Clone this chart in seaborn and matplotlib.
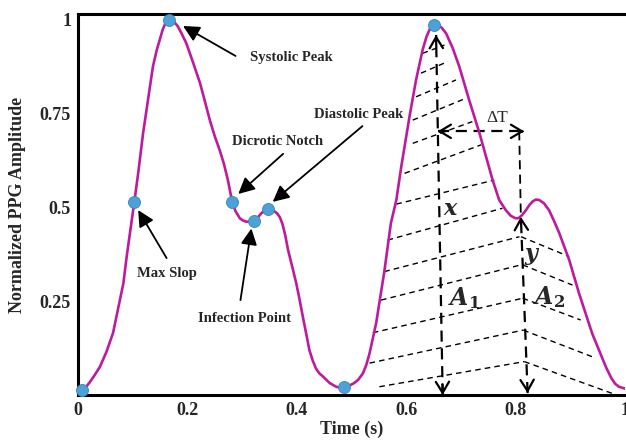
import numpy as np
import pandas as pd
import matplotlib
matplotlib.use("Agg")
import matplotlib.pyplot as plt
import seaborn as sns

# PPG waveform (time in s, normalised amplitude)
time_s = [0.008, 0.015, 0.022, 0.030, 0.040, 0.052, 0.064, 0.074, 0.083, 0.089,
          0.095, 0.103, 0.110, 0.119, 0.128, 0.137, 0.144, 0.150, 0.155, 0.160,
          0.166, 0.171, 0.176, 0.182, 0.189, 0.198, 0.210, 0.223, 0.232, 0.241,
          0.250, 0.259, 0.267, 0.274, 0.282, 0.288, 0.296, 0.302, 0.308, 0.315,
          0.322, 0.329, 0.335, 0.341, 0.348, 0.354, 0.359, 0.364, 0.369, 0.374,
          0.379, 0.384, 0.392, 0.399, 0.405, 0.411, 0.417, 0.423, 0.429, 0.435,
          0.441, 0.448, 0.460, 0.472, 0.480, 0.487, 0.496, 0.504, 0.512, 0.521,
          0.527, 0.533, 0.545, 0.560, 0.572, 0.582, 0.591, 0.606, 0.618, 0.630,
          0.637, 0.643, 0.648, 0.653, 0.659, 0.665, 0.673, 0.685, 0.697, 0.715,
          0.734, 0.758, 0.770, 0.782, 0.791, 0.800, 0.806, 0.812, 0.819, 0.825,
          0.831, 0.837, 0.843, 0.852, 0.861, 0.870, 0.880, 0.898, 0.916, 0.940,
          0.965, 0.975, 0.982, 0.989, 1.000]
amplitude = [0.013, 0.022, 0.035, 0.052, 0.075, 0.115, 0.165, 0.235, 0.298, 0.369,
             0.432, 0.515, 0.591, 0.698, 0.787, 0.876, 0.920, 0.950, 0.975, 0.992,
             1.000, 0.999, 0.994, 0.984, 0.965, 0.938, 0.888, 0.832, 0.783, 0.733,
             0.690, 0.653, 0.615, 0.573, 0.514, 0.490, 0.471, 0.465, 0.462, 0.462,
             0.465, 0.474, 0.484, 0.492, 0.496, 0.495, 0.490, 0.484, 0.474, 0.455,
             0.425, 0.387, 0.340, 0.298, 0.255, 0.209, 0.165, 0.120, 0.092, 0.071,
             0.058, 0.049, 0.032, 0.022, 0.019, 0.020, 0.025, 0.031, 0.040, 0.058,
             0.080, 0.111, 0.191, 0.329, 0.458, 0.520, 0.609, 0.742, 0.840, 0.920,
             0.955, 0.975, 0.985, 0.988, 0.986, 0.979, 0.964, 0.925, 0.876, 0.787,
             0.698, 0.573, 0.520, 0.493, 0.478, 0.471, 0.472, 0.480, 0.493, 0.506,
             0.516, 0.521, 0.520, 0.511, 0.493, 0.465, 0.431, 0.360, 0.271, 0.164,
             0.075, 0.045, 0.030, 0.022, 0.017]

# fiducial points
point_t = [0.008, 0.103, 0.166, 0.282, 0.322, 0.348, 0.487, 0.651]
point_a = [0.013, 0.515, 1.000, 0.514, 0.465, 0.496, 0.020, 0.987]

# labels: text, text centre, arrow start, arrow tip
label_text = ["Systolic Peak", "Dicrotic Notch", "Diastolic Peak", "Max Slop", "Infection Point"]
label_x = [0.390, 0.364, 0.513, 0.162, 0.305]
label_y = [0.899, 0.677, 0.749, 0.323, 0.205]
arrow_x0 = [0.288, 0.375, 0.520, 0.162, 0.297]
arrow_y0 = [0.904, 0.643, 0.717, 0.365, 0.253]
arrow_x1 = [0.192, 0.293, 0.356, 0.110, 0.317]
arrow_y1 = [0.984, 0.536, 0.515, 0.493, 0.444]

# hatch lines of area A1 (left curve -> right)
a1_x0 = [0.630, 0.627, 0.618, 0.612, 0.612, 0.597, 0.582, 0.566, 0.560, 0.554, 0.539, 0.533, 0.551]
a1_y0 = [0.911, 0.858, 0.795, 0.733, 0.671, 0.591, 0.509, 0.413, 0.329, 0.253, 0.166, 0.085, 0.022]
a1_x1 = [0.670, 0.676, 0.691, 0.709, 0.721, 0.737, 0.761, 0.776, 0.807, 0.810, 0.813, 0.814, 0.816]
a1_y1 = [0.933, 0.889, 0.840, 0.791, 0.729, 0.667, 0.573, 0.498, 0.422, 0.347, 0.258, 0.173, 0.089]
# hatch lines of area A2 (vertex -> right curve)
a2_x0 = [0.810, 0.813, 0.813, 0.814, 0.816]
a2_y0 = [0.422, 0.347, 0.258, 0.173, 0.089]
a2_x1 = [0.898, 0.904, 0.919, 0.940, 0.977]
a2_y1 = [0.369, 0.293, 0.200, 0.102, 0.004]

# measurement arrows (x, y, delta T)
x_arrow = [(0.6667, 0.000), (0.6546, 0.960)]
y_arrow = [(0.8220, 0.005), (0.8096, 0.475)]
dt_arrow = [(0.6575, 0.703), (0.8157, 0.703)]
dt_guide = [(0.8066, 0.703), (0.8096, 0.475)]

x_ticks = [0, 0.2, 0.4, 0.6, 0.8, 1]
x_ticklabels = ["0", "0.2", "0.4", "0.6", "0.8", "1"]
y_ticks = [0.25, 0.5, 0.75, 1]
y_ticklabels = ["0.25", "0.5", "0.75", "1"]

sns.set_style("white")
plt.rcParams["font.family"] = ["Liberation Serif", "DejaVu Serif"]
plt.rcParams["font.weight"] = "bold"
plt.rcParams["mathtext.fontset"] = "dejavuserif"

curve_color = "#BE1A9C"
dot_color = "#4CA2D6"

fig = plt.figure(figsize=(6.26, 4.4), dpi=100)
ax = fig.add_axes([0.1246, 0.1023, 0.8738, 0.866])

df = pd.DataFrame({"t": time_s, "a": amplitude})
sns.lineplot(data=df, x="t", y="a", color=curve_color, lw=1.9, ax=ax, zorder=3)

# hatching
for x0, y0, x1, y1 in zip(a1_x0 + a2_x0, a1_y0 + a2_y0, a1_x1 + a2_x1, a1_y1 + a2_y1):
    ax.plot([x0, x1], [y0, y1], color="black", lw=1.0, ls=(0, (4, 3)), zorder=2)


def dashed_arrow(p0, p1):
    ax.plot([p0[0], p1[0]], [p0[1], p1[1]], color="black", lw=1.6,
            ls=(0, (5, 3)), zorder=2)
    dx, dy = p1[0] - p0[0], p1[1] - p0[1]
    for tip, tail in [(p1, (p1[0] - 0.03 * dx, p1[1] - 0.03 * dy)),
                      (p0, (p0[0] + 0.03 * dx, p0[1] + 0.03 * dy))]:
        ax.annotate("", xy=tip, xytext=tail,
                    arrowprops=dict(arrowstyle="->,head_length=0.5,head_width=0.3",
                                    lw=1.6, color="black", shrinkA=0, shrinkB=0,
                                    mutation_scale=16), zorder=4)


dashed_arrow(*x_arrow)
dashed_arrow(*y_arrow)
dashed_arrow(*dt_arrow)
ax.plot([dt_guide[0][0], dt_guide[1][0]], [dt_guide[0][1], dt_guide[1][1]],
        color="black", lw=1.3, ls=(0, (5, 3)), zorder=2)

sns.scatterplot(x=point_t, y=point_a, s=75, color=dot_color, edgecolor="#3A86BA",
                linewidth=0.6, ax=ax, zorder=5, clip_on=False)

for txt, tx, ty, x0, y0, x1, y1 in zip(label_text, label_x, label_y,
                                       arrow_x0, arrow_y0, arrow_x1, arrow_y1):
    ax.annotate("", xy=(x1, y1), xytext=(x0, y0),
                arrowprops=dict(arrowstyle="-|>,head_length=0.7,head_width=0.35",
                                lw=1.3, color="black", shrinkA=0, shrinkB=0,
                                mutation_scale=14), zorder=4)
    ax.text(tx, ty, txt, ha="center", va="center", fontsize=10.5, fontweight="bold")

ax.text(0.766, 0.739, "ΔT", ha="center", va="center", fontsize=12.5, fontweight="normal")
ax.text(0.682, 0.493, r"$\mathbfit{x}$", ha="center", va="center", fontsize=16)
ax.text(0.830, 0.369, r"$\mathbfit{y}$", ha="center", va="center", fontsize=16)
ax.text(0.706, 0.259, r"$\mathbfit{A}_{\mathbf{1}}$", ha="center", va="center", fontsize=17)
ax.text(0.861, 0.261, r"$\mathbfit{A}_{\mathbf{2}}$", ha="center", va="center", fontsize=17)

ax.set_xlim(0, 1)
ax.set_ylim(0, 1.016)
ax.set_xticks(x_ticks)
ax.set_xticklabels(x_ticklabels)
ax.set_yticks(y_ticks)
ax.set_yticklabels(y_ticklabels)
ax.tick_params(length=0, labelsize=13, pad=5)
for lab in ax.get_xticklabels() + ax.get_yticklabels():
    lab.set_fontweight("bold")
ax.set_xlabel("Time (s)", fontsize=13, fontweight="bold", labelpad=1)
ax.set_ylabel("Normalized PPG Amplitude", fontsize=13, fontweight="bold", labelpad=10)

for side in ["left", "bottom", "top"]:
    ax.spines[side].set_color("black")
    ax.spines[side].set_linewidth(2.2)
ax.spines["right"].set_visible(False)

fig.savefig("out.png", dpi=100)
